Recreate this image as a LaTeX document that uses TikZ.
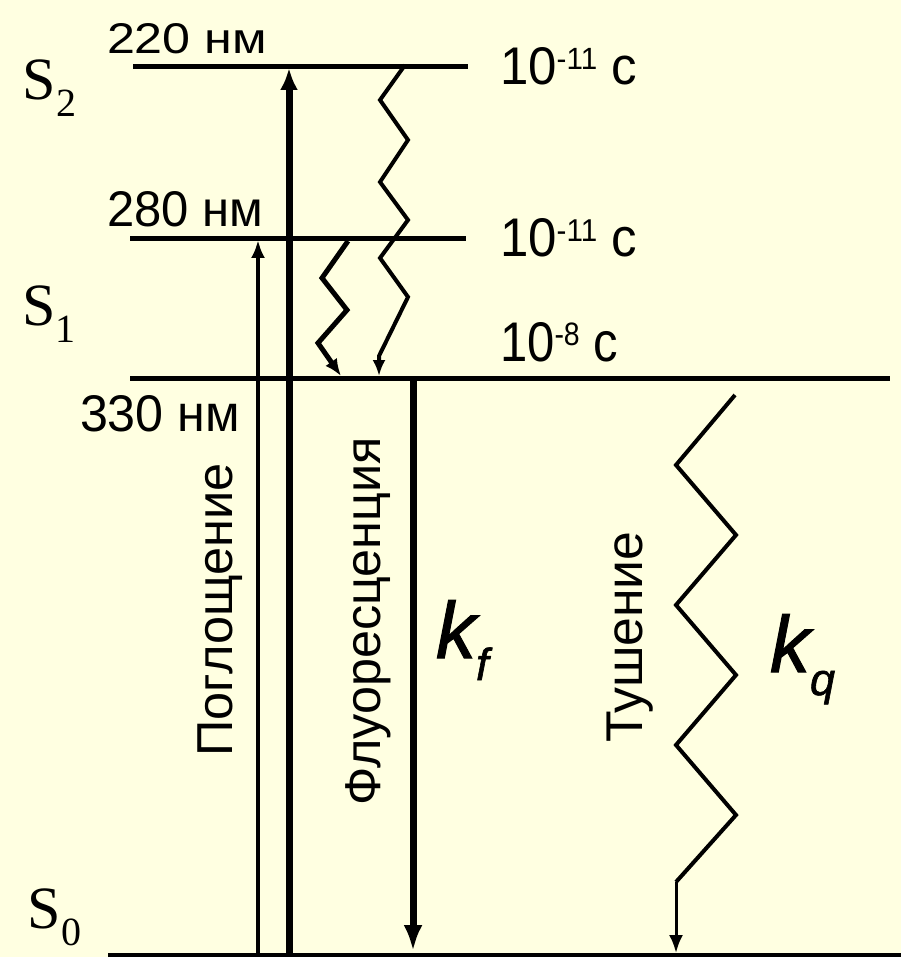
\documentclass[tikz,border=0pt]{standalone}
\usepackage{fontspec}
\setmainfont{Liberation Serif}
\newfontfamily\sff{Liberation Sans}
\newfontfamily\kfont[FakeBold=1.3]{Liberation Sans}
\usetikzlibrary{arrows.meta}
\definecolor{bg}{RGB}{255,255,225}
\newcommand\timelab[1]{\fontsize{50}{60}\selectfont 10\raisebox{0.28em}{\fontsize{29}{29}\selectfont -#1}\hspace{0.28em}с}
\newcommand\nmlab[1]{\fontsize{50}{60}\selectfont #1 нм}
\tikzset{
  level/.style={line width=5pt},
  lbl/.style={inner sep=0pt, outer sep=0pt, font=\sff},
  slbl/.style={inner sep=0pt, outer sep=0pt, font=\fontsize{60}{60}\selectfont},
  klbl/.style={inner sep=0pt, outer sep=0pt, font=\kfont\itshape\fontsize{80}{80}\selectfont},
  rotlbl/.style={inner sep=0pt, outer sep=0pt, rotate=90, anchor=base, font=\sff\fontsize{50}{60}\selectfont},
  thinabs/.style={line width=4.5pt, -{Latex[length=18pt,width=14pt]}},
  thickabs/.style={line width=7pt, -{Latex[length=22pt,width=18pt]}},
  fluo/.style={line width=7pt, -{Latex[length=26pt,width=19pt]}},
  wave/.style={line width=5pt, line join=miter, -{Latex[length=17pt,width=14pt]}},
  wavethin/.style={line width=4pt, line join=miter, -{Latex[length=16pt,width=13pt]}},
  zig/.style={line width=4pt, line join=miter},
  qarrow/.style={line width=3pt, -{Latex[length=18pt,width=14pt]}},
}
\begin{document}
\begin{tikzpicture}[x=1pt,y=-1pt]
\fill[bg] (0,0) rectangle (901,957);
\useasboundingbox (0,0) rectangle (901,957);

% levels
\coordinate (S2a) at (133,67);  \coordinate (S2b) at (468,67);
\coordinate (S1ua) at (130,239); \coordinate (S1ub) at (466,239);
\coordinate (S1la) at (130,378); \coordinate (S1lb) at (890,378);
\coordinate (S0a) at (108,955);  \coordinate (S0b) at (901,955);
\draw[level] (S2a) -- (S2b);
\draw[level] (S1ua) -- (S1ub);
\draw[level] (S1la) -- (S1lb);
\draw[level] (S0a) -- (S0b);

% absorption arrows
\coordinate (a1s) at (258,957); \coordinate (a1e) at (258,240);
\coordinate (a2s) at (289,957); \coordinate (a2e) at (289,68);
\draw[thinabs] (a1s) -- (a1e);
\draw[thickabs] (a2s) -- (a2e);

% fluorescence
\coordinate (fs) at (413,378); \coordinate (fe) at (413,951);
\draw[fluo] (fs) -- (fe);

% wavy S2 -> S1
\coordinate (w0) at (405,65);
\coordinate (w1) at (380,100);
\coordinate (w2) at (408,140);
\coordinate (w3) at (380,182);
\coordinate (w4) at (408,220);
\coordinate (w5) at (380,258);
\coordinate (w6) at (408,297);
\coordinate (w7) at (379,356);
\coordinate (w8) at (379,376);
\draw[wavethin] (w0) -- (w1) -- (w2) -- (w3) -- (w4) -- (w5) -- (w6) -- (w7) -- (w8);

% wavy S1 upper -> S1 lower
\coordinate (v0) at (348,241);
\coordinate (v1) at (322,278);
\coordinate (v2) at (347,310);
\coordinate (v3) at (318,343);
\coordinate (v4) at (341,376);
\draw[wave] (v0) -- (v1) -- (v2) -- (v3) -- (v4);

% quenching
\coordinate (q0) at (735,395);
\coordinate (q1) at (676,465);
\coordinate (q2) at (736,535);
\coordinate (q3) at (676,605);
\coordinate (q4) at (736,675);
\coordinate (q5) at (676,745);
\coordinate (q6) at (736,815);
\coordinate (q7) at (676,882);
\coordinate (q8) at (676,953);
\draw[zig] (q0) -- (q1) -- (q2) -- (q3) -- (q4) -- (q5) -- (q6) -- (q7);
\draw[qarrow] (q7) -- (q8);

% state labels
\node[slbl, anchor=base west] (s2) at (22,100) {S\kern1pt\raisebox{-17pt}{\fontsize{40}{40}\selectfont 2}};
\node[slbl, anchor=base west] (s1) at (22,325) {S\kern0pt\raisebox{-17pt}{\fontsize{40}{40}\selectfont 1}};
\node[slbl, anchor=base west] (s0) at (27,928) {S\kern1pt\raisebox{-17pt}{\fontsize{40}{40}\selectfont 0}};

% wavelength labels
\node[lbl, anchor=south west] (n220) at (107,54) {\resizebox{160pt}{30pt}{\nmlab{220}}};
\node[lbl, anchor=south west] (n280) at (107,227) {\resizebox{156pt}{35pt}{\nmlab{280}}};
\node[lbl, anchor=south west] (n330) at (80,432) {\resizebox{160pt}{36pt}{\nmlab{330}}};

% time labels
\node[lbl, anchor=south west] (t1) at (500,85) {\resizebox{137pt}{37pt}{\timelab{11}}};
\node[lbl, anchor=south west] (t2) at (500,257) {\resizebox{137pt}{38pt}{\timelab{11}}};
\node[lbl, anchor=south west] (t3) at (500,362) {\resizebox{118pt}{39pt}{\timelab{8}}};

% rotated labels
\node[rotlbl] (pog) at (232,610) {\resizebox{293pt}{!}{Поглощение}};
\node[rotlbl] (flu) at (380,621) {\resizebox{368pt}{!}{Флуоресценция}};
\node[rotlbl] (tush) at (642,637) {\resizebox{211pt}{!}{Тушение}};

% rate constants
\node[klbl, anchor=base west] (kf) at (436,658) {k\raisebox{-22pt}{\fontsize{45}{45}\selectfont f}};
\node[klbl, anchor=base west] (kq) at (770,672) {k\raisebox{-23pt}{\fontsize{45}{45}\selectfont q}};
\end{tikzpicture}
\end{document}
